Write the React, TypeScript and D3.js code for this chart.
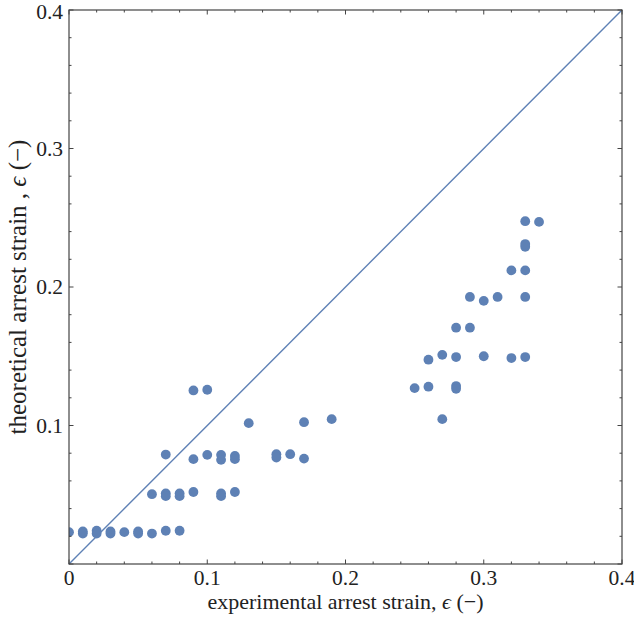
import React from "react";
import * as d3 from "d3";

const xValues: number[] = [
  0.0, 0.01, 0.01, 0.02, 0.02, 0.03, 0.03, 0.04, 0.05, 0.05, 0.06, 0.07, 0.08,
  0.06, 0.07, 0.07, 0.08, 0.08, 0.09, 0.11, 0.11, 0.12,
  0.07, 0.09, 0.1, 0.11, 0.11, 0.12, 0.12, 0.15, 0.15, 0.16, 0.17,
  0.09, 0.1, 0.13, 0.17, 0.19,
  0.25, 0.26, 0.28, 0.28, 0.27,
  0.26, 0.27, 0.28, 0.3, 0.32, 0.33,
  0.28, 0.29,
  0.29, 0.3, 0.31, 0.33,
  0.32, 0.33, 0.33, 0.33, 0.33, 0.34,
];
const yValues: number[] = [
  0.023, 0.0235, 0.022, 0.024, 0.022, 0.0235, 0.022, 0.023, 0.0235, 0.022, 0.022, 0.024, 0.024,
  0.0504, 0.051, 0.049, 0.051, 0.049, 0.052, 0.051, 0.049, 0.052,
  0.079, 0.0757, 0.0788, 0.0788, 0.0752, 0.078, 0.0757, 0.0793, 0.0769, 0.0793, 0.0761,
  0.1253, 0.1258, 0.1017, 0.1024, 0.1046,
  0.127, 0.128, 0.1285, 0.1265, 0.1046,
  0.1475, 0.151, 0.1494, 0.15, 0.1487, 0.1494,
  0.1706, 0.1706,
  0.1928, 0.19, 0.1928, 0.1928,
  0.212, 0.212, 0.229, 0.231, 0.2475, 0.247,
];
const xTickLabels: string[] = ["0", "0.1", "0.2", "0.3", "0.4"];
const yTickLabels: string[] = ["0.1", "0.2", "0.3", "0.4"];
const xLabel = "experimental arrest strain, ";
const yLabel = "theoretical arrest strain , ";

export default function App() {
  const W = 634, H = 617;
  const left = 69, right = 622, top = 10, bottom = 564;
  const x = d3.scaleLinear().domain([0, 0.4]).range([left, right]);
  const y = d3.scaleLinear().domain([0, 0.4]).range([bottom, top]);
  const color = "#5e81b5";
  const frame = "#444";
  const minor = d3.range(0, 0.4001, 0.02);
  const major = [0, 0.1, 0.2, 0.3, 0.4];
  const isMajor = (v: number) => Math.abs(v * 10 - Math.round(v * 10)) < 1e-6;
  const font = "'Liberation Serif', 'Times New Roman', serif";
  const line = d3.line<[number, number]>().x((d) => x(d[0])).y((d) => y(d[1]));

  return (
    <svg width={W} height={H} style={{ position: "absolute", left: 0, top: 0, background: "#fff" }}>
      <defs>
        <clipPath id="plotclip">
          <rect x={left} y={top} width={right - left} height={bottom - top} />
        </clipPath>
      </defs>
      <path d={line([[0, 0], [0.4, 0.4]]) || ""} stroke={color} strokeWidth={1.4} fill="none" />
      <g>
        {xValues.map((xv, i) => (
          <circle key={i} cx={x(xv)} cy={y(yValues[i])} r={4.9} fill={color} clipPath={xv === 0 ? "url(#plotclip)" : undefined} />
        ))}
      </g>
      <rect x={left} y={top} width={right - left} height={bottom - top} fill="none" stroke={frame} strokeWidth={1.2} />
      {minor.map((v, i) => {
        const len = isMajor(v) ? 4.5 : 2.5;
        return (
          <g key={i} stroke={frame} strokeWidth={1}>
            <line x1={x(v)} x2={x(v)} y1={bottom} y2={bottom - len} />
            <line x1={x(v)} x2={x(v)} y1={top} y2={top + len} />
            <line x1={left} x2={left + len} y1={y(v)} y2={y(v)} />
            <line x1={right} x2={right - len} y1={y(v)} y2={y(v)} />
          </g>
        );
      })}
      {major.map((v, i) => (
        <text key={"xt" + i} x={x(v)} y={bottom + 21} textAnchor="middle" fontFamily={font} fontSize={21.5} fill="#222">
          {xTickLabels[i]}
        </text>
      ))}
      {major.slice(1).map((v, i) => (
        <text key={"yt" + i} x={left - 6} y={Math.max(y(v) + 7, 19)} textAnchor="end" fontFamily={font} fontSize={21.5} fill="#222">
          {yTickLabels[i]}
        </text>
      ))}
      <text x={(left + right) / 2} y={bottom + 45} textAnchor="middle" fontFamily={font} fontSize={22} fill="#222">
        {xLabel}
        <tspan fontStyle="italic">ϵ</tspan> (−)
      </text>
      <text
        transform={`translate(${26},${(top + bottom) / 2}) rotate(-90)`}
        textAnchor="middle"
        fontFamily={font}
        fontSize={25}
        fill="#222"
      >
        {yLabel}
        <tspan fontStyle="italic">ϵ</tspan> (−)
      </text>
    </svg>
  );
}
